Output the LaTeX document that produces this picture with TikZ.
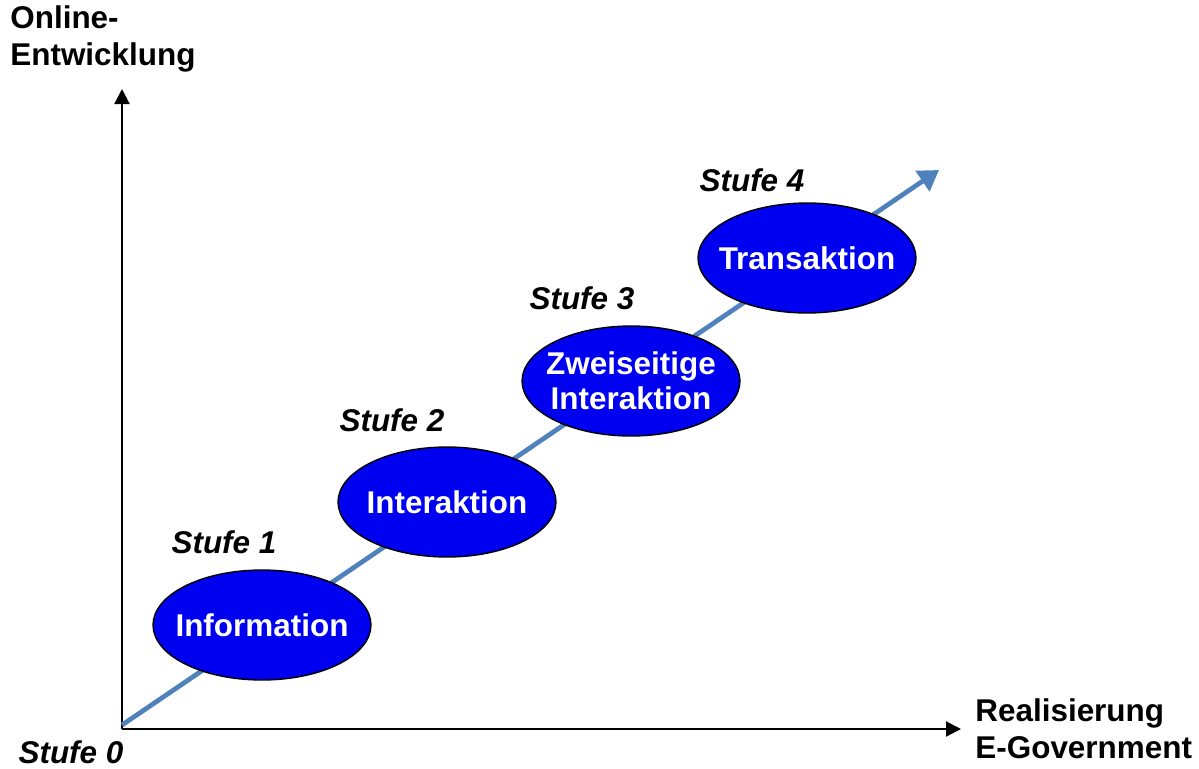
\documentclass[tikz,border=0pt]{standalone}
\usepackage{fontspec}
\setmainfont{Liberation Sans}
\usetikzlibrary{shapes.geometric,arrows.meta}
\definecolor{linblue}{HTML}{4F81BD}
\definecolor{ellblue}{HTML}{0000F0}
\begin{document}
\begin{tikzpicture}[x=0.02cm,y=-0.02cm,
  lbl/.style={font=\fontsize{17.9}{21}\selectfont\bfseries, inner sep=0pt},
  stufe/.style={font=\fontsize{17.9}{21}\selectfont\bfseries\itshape, inner sep=0pt},
  stage/.style={ellipse, draw=black, line width=0.8pt, fill=ellblue,
    minimum width=4.36cm, minimum height=2.2cm, inner sep=0pt},
  stagetext/.style={text=white, align=center, inner sep=0pt,
    font=\fontsize{17.9}{20}\selectfont\bfseries},
  axis/.style={line width=1.2pt, -{Triangle[length=0.3cm,width=0.3cm]}}]
\useasboundingbox (0,0) rectangle (1199,768);
\coordinate (O) at (122,729);
\coordinate (Ytop) at (122,89);
\coordinate (Xend) at (961,729);
\coordinate (Dtip) at (939,170);
\coordinate (Dstart) at (122,725);
\draw[axis] (O) -- (Ytop);
\draw[axis] (O) -- (Xend);
\draw[linblue, line width=2.7pt, line cap=butt, -{Triangle[length=0.4cm,width=0.48cm]}] (Dstart) -- (Dtip);
\node[stage] (s1) at (262,625) {};
\node[stage] (s2) at (447,502) {};
\node[stage] (s3) at (631,381) {};
\node[stage] (s4) at (807,258) {};
\node[stagetext] (s1t) at (s1.center) {Information};
\node[stagetext] (s2t) at (s2.center) {Interaktion};
\node[stagetext] (s3t) at (s3.center) {Zweiseitige\\Interaktion};
\node[stagetext] (s4t) at (s4.center) {Transaktion};
\node[stufe] (t0) at (71,752) {Stufe 0};
\node[stufe] (t1) at (224,542) {Stufe 1};
\node[stufe] (t2) at (392,420) {Stufe 2};
\node[stufe] (t3) at (582,298) {Stufe 3};
\node[stufe] (t4) at (752,180) {Stufe 4};
\node[lbl, anchor=north west, align=left] (ylab) at (10,5) {Online-\\Entwicklung};
\node[lbl, anchor=north west, align=left] (xlab) at (975,698) {Realisierung\\E-Government};
\end{tikzpicture}
\end{document}
